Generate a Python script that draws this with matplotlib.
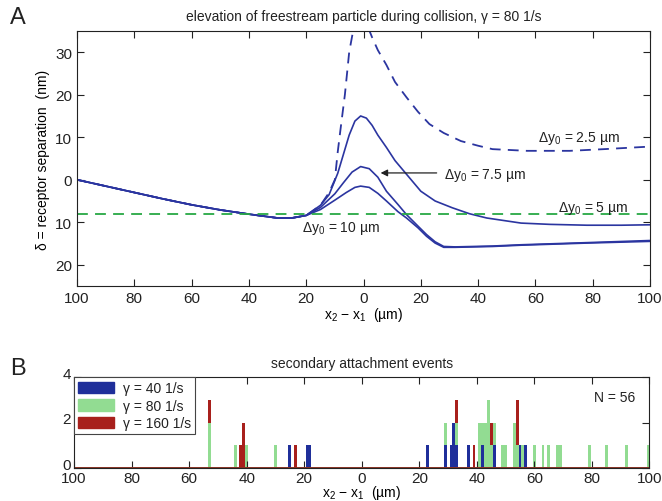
import matplotlib
matplotlib.use('Agg')  # headless
import matplotlib.pyplot as plt
import matplotlib.transforms as mtransforms
from matplotlib.ticker import FuncFormatter
from matplotlib.patches import Patch

plt.rcParams['font.family'] = ['Liberation Sans', 'DejaVu Sans']
plt.rcParams['mathtext.fontset'] = 'custom'
plt.rcParams['mathtext.rm'] = 'Liberation Sans'
plt.rcParams['mathtext.it'] = 'Liberation Sans'
plt.rcParams['mathtext.default'] = 'regular'
plt.rcParams['font.size'] = 9.5
plt.rcParams['text.color'] = '#222222'
plt.rcParams['axes.edgecolor'] = '#222222'
plt.rcParams['xtick.color'] = '#222222'
plt.rcParams['ytick.color'] = '#222222'

# --- panel A: receptor separation during collision (nm) ---
common_x = [-100, -90, -80, -70, -60, -50, -40, -30, -25, -20]
common_y = [0.0, -1.5, -3.0, -4.5, -5.9, -7.1, -8.1, -9.0, -9.0, -8.4]

dy25_x = [-15, -12, -10, -9, -8, -6.5, -5, -3.5, -1, 1.5, 3, 5, 8, 11, 15, 19, 23, 28, 34, 40, 45, 57, 72, 84, 100]
dy25_y = [-6.0, -3.0, 0.0, 6.5, 12.0, 20.0, 30.0, 35.5, 37.0, 36.0, 33.5, 30.5, 27.0, 23.0, 19.4, 16.0, 13.1, 11.0, 9.1, 8.0, 7.2, 6.8, 6.8, 7.2, 7.8]

dy5_x = [-15, -12, -9, -7, -5, -3, -1, 1, 3, 5, 8, 11, 15, 20, 25, 31, 37, 43, 55, 65, 78, 90, 100]
dy5_y = [-6.0, -3.5, 1.5, 6.0, 10.5, 13.8, 15.0, 14.5, 12.8, 10.5, 7.6, 4.5, 1.3, -2.7, -5.0, -6.6, -8.0, -9.0, -10.2, -10.5, -10.7, -10.7, -10.6]

dy75_x = [-15, -10, -7, -4, -1, 2, 5, 8, 12, 15, 19, 22, 25, 28, 32, 45, 55, 78, 100]
dy75_y = [-6.5, -3.3, -0.7, 1.8, 3.1, 2.6, 0.6, -2.7, -5.8, -8.2, -10.9, -12.9, -14.6, -15.7, -15.8, -15.6, -15.3, -14.8, -14.3]

dy10_x = [-15, -10, -6, -3, -1, 2, 5, 8, 12, 15, 19, 22, 25, 28, 32, 45, 55, 78, 100]
dy10_y = [-7.0, -4.8, -3.0, -1.8, -1.5, -1.8, -3.2, -5.0, -7.5, -9.0, -11.3, -13.3, -14.9, -15.9, -15.9, -15.7, -15.4, -14.9, -14.5]

freestream_level = -8.0

# --- panel B: secondary attachment events per 1 um bin ---
bin_pos = [-53, -44, -42, -41, -40, -30, -25, -23, -19, -18,
           23, 29, 31, 32, 33, 37, 39, 41, 42, 43, 44, 45, 46,
           49, 50, 51, 53, 54, 55, 56, 57, 60, 63, 65, 68, 69, 79, 85, 92, 99.5]
count_40 = [0, 0, 0, 0, 0, 0, 1, 0, 1, 1,
            1, 1, 1, 2, 1, 1, 0, 0, 1, 0, 0, 0, 1,
            0, 0, 0, 0, 0, 1, 0, 1, 0, 0, 0, 0, 0, 0, 0, 0, 0]
count_80 = [2, 1, 0, 0, 1, 1, 0, 0, 0, 0,
            0, 1, 0, 0, 1, 0, 0, 2, 1, 2, 3, 1, 1,
            1, 1, 0, 2, 1, 0, 1, 0, 1, 1, 1, 1, 1, 1, 1, 1, 1]
count_160 = [1, 0, 1, 2, 0, 0, 0, 1, 0, 0,
             0, 0, 0, 0, 1, 0, 1, 0, 0, 0, 0, 1, 0,
             0, 0, 0, 0, 2, 0, 0, 0, 0, 0, 0, 0, 0, 0, 0, 0, 0]

blue = '#2b35a0'
green = '#27a844'
c40 = '#1f2f9a'
c80 = '#92dc92'
c160 = '#a8201c'

absfmt = FuncFormatter(lambda v, p: '%d' % abs(round(v)))

fig = plt.figure(figsize=(6.62, 5.02), dpi=100)
fig.patch.set_facecolor('white')

axA = fig.add_axes([0.1163, 0.4283, 0.8656, 0.508])
axA.plot(common_x + dy25_x, common_y + dy25_y, color=blue, lw=1.3, ls=(0, (6, 4)))
axA.plot(common_x + dy5_x, common_y + dy5_y, color=blue, lw=1.2)
axA.plot(common_x + dy75_x, common_y + dy75_y, color=blue, lw=1.2)
axA.plot(common_x + dy10_x, common_y + dy10_y, color=blue, lw=1.2)
axA.axhline(freestream_level, color=green, lw=1.3, ls=(0, (6, 4)))

axA.set_xlim(-100, 100)
axA.set_ylim(-25, 35)
axA.set_xticks(range(-100, 101, 20))
axA.set_yticks([-20, -10, 0, 10, 20, 30])
axA.xaxis.set_major_formatter(absfmt)
axA.yaxis.set_major_formatter(absfmt)
axA.tick_params(direction='in', top=True, right=True, length=5, labelsize=11)
axA.set_title('elevation of freestream particle during collision, \u03b3 = 80 1/s', fontsize=10, pad=8)
axA.set_xlabel('x$_2$ \u2212 x$_1$  (\u00b5m)', fontsize=10, labelpad=0)
axA.set_ylabel('\u03b4 = receptor separation  (nm)', fontsize=10, labelpad=4)

axA.text(61, 9.9, '\u0394y$_0$ = 2.5 \u00b5m', fontsize=10, va='center')
axA.text(28, 1.3, '\u0394y$_0$ = 7.5 \u00b5m', fontsize=10, va='center')
axA.annotate('', xy=(5.0, 1.6), xytext=(26.5, 1.6),
             arrowprops=dict(arrowstyle='-|>', color='#222222', lw=0.9, mutation_scale=10))
axA.text(68, -6.6, '\u0394y$_0$ = 5 \u00b5m', fontsize=10, va='center')
axA.text(-21.6, -11.3, '\u0394y$_0$ = 10 \u00b5m', fontsize=10, va='center')

axB = fig.add_axes([0.1118, 0.0657, 0.8693, 0.1813])
b80 = count_40
b160 = [a + b for a, b in zip(count_40, count_80)]
axB.bar(bin_pos, count_40, width=1.0, color=c40, linewidth=0)
axB.bar(bin_pos, count_80, bottom=b80, width=1.0, color=c80, linewidth=0)
axB.bar(bin_pos, count_160, bottom=b160, width=1.0, color=c160, linewidth=0)
axB.axhline(0, color='#8a3324', lw=1.4)

axB.set_xlim(-100, 100)
axB.set_ylim(0, 4)
axB.set_xticks(range(-100, 101, 20))
axB.set_yticks([0, 2, 4])
axB.xaxis.set_major_formatter(absfmt)
axB.tick_params(direction='in', top=True, right=True, length=5, labelsize=11, pad=2)
# lift y tick labels a little, like the original
lift = mtransforms.ScaledTranslation(0, 5 / 100, fig.dpi_scale_trans)
for lab in axB.get_yticklabels():
    lab.set_transform(lab.get_transform() + lift)
axB.set_title('secondary attachment events', fontsize=10, pad=7)
axB.set_xlabel('x$_2$ \u2212 x$_1$  (\u00b5m)', fontsize=10, labelpad=-1)
axB.text(0.975, 0.78, 'N = %d' % (sum(count_40) + sum(count_80) + sum(count_160)),
         transform=axB.transAxes, ha='right', va='center', fontsize=10)

handles = [Patch(color=c40), Patch(color=c80), Patch(color=c160)]
leg = axB.legend(handles, ['\u03b3 = 40 1/s', '\u03b3 = 80 1/s', '\u03b3 = 160 1/s'],
                 loc='upper left', borderaxespad=0, fancybox=False, fontsize=10,
                 handlelength=2.6, handleheight=0.9, labelspacing=0.25, borderpad=0.3,
                 handletextpad=0.6, framealpha=1)
leg.get_frame().set_edgecolor('#444444')
leg.get_frame().set_linewidth(0.8)

fig.text(0.015, 0.965, 'A', fontsize=17, va='center')
fig.text(0.015, 0.265, 'B', fontsize=17, va='center')

fig.savefig('out.png', dpi=100, facecolor='white')
plt.close(fig)
